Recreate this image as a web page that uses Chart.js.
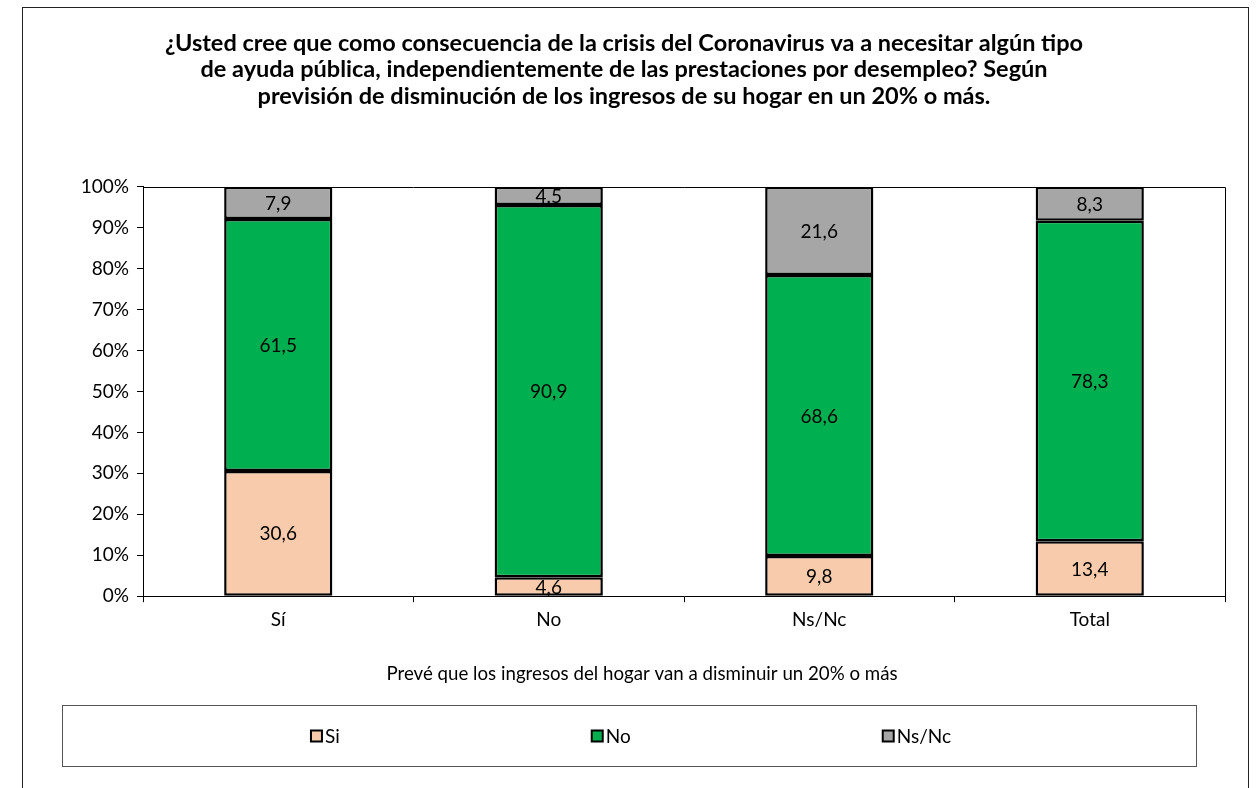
<!DOCTYPE html>
<html>
<head>
<meta charset="utf-8">
<script src="https://cdn.jsdelivr.net/npm/chart.js@4.4.1/dist/chart.umd.min.js"></script>
<style>
  html, body { margin: 0; padding: 0; background: #fff; }
  #wrap { width: 1259px; height: 788px; }
</style>
</head>
<body>
<div id="wrap"><canvas id="crisisChart" width="1259" height="788"></canvas></div>
<script>
const categories = ['Sí', 'No', 'Ns/Nc', 'Total']
const seriesNames = ['Si', 'No', 'Ns/Nc']
const valuesSi = [30.6, 4.6, 9.8, 13.4]
const valuesNo = [61.5, 90.9, 68.6, 78.3]
const valuesNsNc = [7.9, 4.5, 21.6, 8.3]
const yTicks = [0, 10, 20, 30, 40, 50, 60, 70, 80, 90, 100]
const xTitle = 'Prevé que los ingresos del hogar van a disminuir un 20% o más'

const colors = ['#F8CBAD', '#00B050', '#A6A6A6']
const FONT = 'Lato'
const SIZE = 19

const titleLines = [
    '¿Usted cree que como consecuencia de la crisis del Coronavirus va a necesitar algún tipo',
    'de ayuda pública, independientemente de las prestaciones por desempleo? Según',
    'previsión de disminución de los ingresos de su hogar en un 20% o más.'
]

// etiquetas dentro de cada segmento
const segmentLabels = {
    id: 'segmentLabels',
    afterDatasetsDraw(chart) {
        const ctx = chart.ctx
        ctx.save()
        ctx.font = `${SIZE}px ${FONT}`
        ctx.fillStyle = '#000'
        ctx.textAlign = 'center'
        ctx.textBaseline = 'middle'
        chart.data.datasets.forEach((ds, i) => {
            chart.getDatasetMeta(i).data.forEach((bar, j) => {
                const txt = ds.data[j].toFixed(1).replace('.', ',')
                ctx.fillText(txt, bar.x, (bar.y + bar.base) / 2 + 1)
            })
        })
        ctx.restore()
    }
}

// marco exterior, borde del area de trazado, titulo del eje y leyenda con caja
const frameAndLegend = {
    id: 'frameAndLegend',
    afterDraw(chart) {
        const ctx = chart.ctx
        const a = chart.chartArea
        ctx.save()
        ctx.strokeStyle = '#222'
        ctx.lineWidth = 1
        ctx.strokeRect(22.5, 7.5, 1226, 800)

        ctx.strokeStyle = '#000'
        ctx.beginPath()
        ctx.moveTo(a.left, Math.round(a.top) + 0.5)
        ctx.lineTo(Math.round(a.right) + 0.5, Math.round(a.top) + 0.5)
        ctx.lineTo(Math.round(a.right) + 0.5, a.bottom)
        ctx.stroke()

        // titulo del eje x
        ctx.font = `18.7px ${FONT}`
        ctx.fillStyle = '#000'
        ctx.textAlign = 'center'
        ctx.textBaseline = 'middle'
        ctx.fillText(xTitle, 642, 674)

        // caja de la leyenda
        ctx.strokeStyle = '#555'
        ctx.strokeRect(62.5, 705.5, 1134, 61)

        ctx.font = `${SIZE}px ${FONT}`
        ctx.textAlign = 'left'
        const box = 11, gapText = 3, gapItem = 252
        const widths = seriesNames.map(n => box + gapText + ctx.measureText(n).width)
        const total = widths.reduce((s, w) => s + w, 0) + gapItem * (widths.length - 1)
        let x = (62 + 1196) / 2 + 2 - total / 2
        const cy = 736
        seriesNames.forEach((n, i) => {
            ctx.fillStyle = colors[i]
            ctx.fillRect(x, cy - box / 2, box, box)
            ctx.strokeStyle = '#000'
            ctx.lineWidth = 2
            ctx.strokeRect(x, cy - box / 2, box, box)
            ctx.fillStyle = '#000'
            ctx.fillText(n, x + box + gapText, cy + 1)
            x += widths[i] + gapItem
        })
        ctx.restore()
    }
}

const makeSet = (label, data, color) => ({
    label: label,
    data: data,
    backgroundColor: color,
    borderColor: '#000',
    borderWidth: 2.5,
    borderSkipped: false,
    categoryPercentage: 0.4,
    barPercentage: 1
})

new Chart(
    document.getElementById('crisisChart'),
    {
        type: 'bar',
        data: {
            labels: categories,
            datasets: [
                makeSet(seriesNames[0], valuesSi, colors[0]),
                makeSet(seriesNames[1], valuesNo, colors[1]),
                makeSet(seriesNames[2], valuesNsNc, colors[2]),
            ]
        },
        options: {
            responsive: false,
            animation: false,
            layout: {
                padding: { left: 23, right: 34, top: 0, bottom: 151 }
            },
            plugins: {
                legend: { display: false },
                tooltip: { enabled: false },
                title: {
                    display: true,
                    text: titleLines,
                    color: '#000',
                    font: { family: FONT, size: 23.5, weight: 'bold', lineHeight: 1.13 },
                    padding: { top: 30, bottom: 77 }
                }
            },
            scales: {
                x: {
                    stacked: true,
                    grid: {
                        offset: true,
                        drawOnChartArea: false,
                        drawTicks: true,
                        tickLength: 6,
                        color: '#000'
                    },
                    border: { display: true, color: '#000', width: 1 },
                    ticks: {
                        color: '#000',
                        padding: 6,
                        font: { family: FONT, size: SIZE }
                    }
                },
                y: {
                    stacked: true,
                    min: 0,
                    max: 100,
                    afterBuildTicks: (scale) => {
                        scale.ticks = yTicks.map(v => ({ value: v }))
                    },
                    afterFit: (scale) => { scale.width = 120 },
                    grid: {
                        drawOnChartArea: false,
                        drawTicks: true,
                        tickLength: 6,
                        color: '#000'
                    },
                    border: { display: true, color: '#000', width: 1 },
                    ticks: {
                        color: '#000',
                        padding: 8,
                        font: { family: FONT, size: SIZE },
                        callback: (v) => v + '%'
                    }
                }
            }
        },
        plugins: [segmentLabels, frameAndLegend]
    }
);
</script>
</body>
</html>
